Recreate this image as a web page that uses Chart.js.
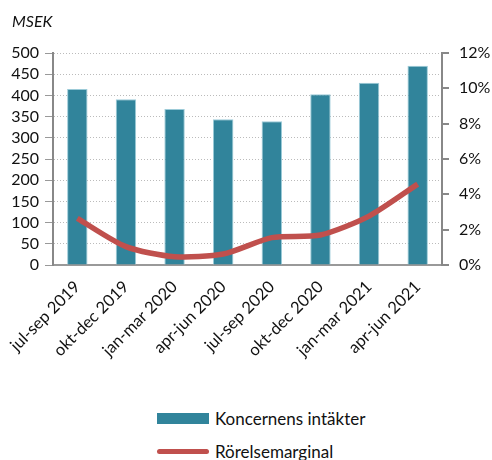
<!DOCTYPE html>
<html>
<head>
<meta charset="utf-8">
<script src="https://cdn.jsdelivr.net/npm/chart.js@4.4.1/dist/chart.umd.min.js"></script>
<style>
  body { margin: 0; background: #fff; }
  #wrap { position: relative; width: 492px; height: 460px; overflow: hidden; }
  #box { position: absolute; left: 0; top: 0; width: 492px; height: 385px; }
  #msek { position: absolute; left: 12px; top: 11px; font-family: Lato, sans-serif; font-size: 16px; font-style: italic; color: #111; }
  #legend { position: absolute; left: 157px; top: 402px; font-family: Lato, sans-serif; font-size: 17px; color: #111; }
  .item { display: flex; align-items: center; height: 33px; }
  .sw { width: 52px; margin-right: 6px; }
</style>
</head>
<body>
<div id="wrap">
  <div id="box"><canvas id="chart1"></canvas></div>
  <div id="msek">MSEK</div>
  <div id="legend"></div>
</div>
<script>
var kvartal = ['jul-sep 2019', 'okt-dec 2019', 'jan-mar 2020', 'apr-jun 2020',
               'jul-sep 2020', 'okt-dec 2020', 'jan-mar 2021', 'apr-jun 2021'];
var intakter = [415, 391, 368, 344, 339, 403, 430, 470];
var marginal = [2.64, 1.04, 0.47, 0.62, 1.55, 1.70, 2.77, 4.58];
var msekTicks = [0, 50, 100, 150, 200, 250, 300, 350, 400, 450, 500];
var procentTicks = [0, 2, 4, 6, 8, 10, 12];

var teal = '#31849B';
var red = '#C0504D';
var font = 'Lato, sans-serif';

(function () {
    var ctx1 = document.getElementById('chart1').getContext('2d');
    var chart1 = new Chart(ctx1, {
        type: 'bar',
        data: {
            labels: kvartal,
            datasets: [{
                type: 'line',
                label: 'Rörelsemarginal',
                data: marginal,
                yAxisID: 'y2',
                borderColor: red,
                backgroundColor: red,
                borderWidth: 5.5,
                pointRadius: 0,
                tension: 0.25,
                order: 0
            }, {
                type: 'bar',
                label: 'Koncernens intäkter',
                data: intakter,
                yAxisID: 'y',
                backgroundColor: teal,
                borderColor: '#9ccbd8',
                borderWidth: 1,
                barPercentage: 0.42,
                categoryPercentage: 1,
                order: 1
            }]
        },
        options: {
            responsive: true,
            maintainAspectRatio: false,
            animation: false,
            layout: { padding: { left: 0, right: 0, top: 53, bottom: 0 } },
            plugins: {
                legend: { display: false },
                tooltip: { enabled: false },
                title: { display: false }
            },
            scales: {
                x: {
                    grid: { display: false },
                    border: { display: true, color: '#999', width: 2 },
                    afterFit: function (axis) { axis.height = 120; },
                    ticks: {
                        color: '#111',
                        font: { family: font, size: 16.5 },
                        maxRotation: 45,
                        minRotation: 45,
                        autoSkip: false,
                        padding: 4
                    }
                },
                y: {
                    position: 'left',
                    min: 0,
                    max: 500,
                    afterFit: function (axis) { axis.width = 53; },
                    afterBuildTicks: function (axis) {
                        axis.ticks = msekTicks.map(function (v) { return { value: v }; });
                    },
                    grid: {
                        color: '#bbb',
                        borderDash: [2, 2],
                        tickLength: 8,
                        tickColor: '#999'
                    },
                    border: { display: true, color: '#888', width: 2, dash: [1, 2] },
                    ticks: {
                        color: '#111',
                        font: { family: font, size: 16 },
                        autoSkip: false,
                        padding: 6
                    }
                },
                y2: {
                    position: 'right',
                    min: 0,
                    max: 12,
                    afterFit: function (axis) { axis.width = 50; },
                    afterBuildTicks: function (axis) {
                        axis.ticks = procentTicks.map(function (v) { return { value: v }; });
                    },
                    grid: {
                        drawOnChartArea: false,
                        tickLength: 7,
                        tickColor: '#888',
                        lineWidth: 2
                    },
                    border: { display: true, color: '#888', width: 2 },
                    ticks: {
                        color: '#111',
                        font: { family: font, size: 16 },
                        autoSkip: false,
                        padding: 10,
                        callback: function (v) { return v + '%'; }
                    }
                }
            }
        }
    });

    // egen legend, en rad per serie
    var legend = document.getElementById('legend');
    var items = [
        { text: chart1.data.datasets[1].label, bar: true },
        { text: chart1.data.datasets[0].label, bar: false }
    ];
    items.forEach(function (it) {
        var row = document.createElement('div');
        row.className = 'item';
        var sw = document.createElement('div');
        sw.className = 'sw';
        if (it.bar) {
            sw.style.height = '11px';
            sw.style.background = teal;
        } else {
            sw.style.height = '5px';
            sw.style.borderRadius = '3px';
            sw.style.background = red;
        }
        var txt = document.createElement('span');
        txt.textContent = it.text;
        row.appendChild(sw);
        row.appendChild(txt);
        legend.appendChild(row);
    });
})();
</script>
</body>
</html>
